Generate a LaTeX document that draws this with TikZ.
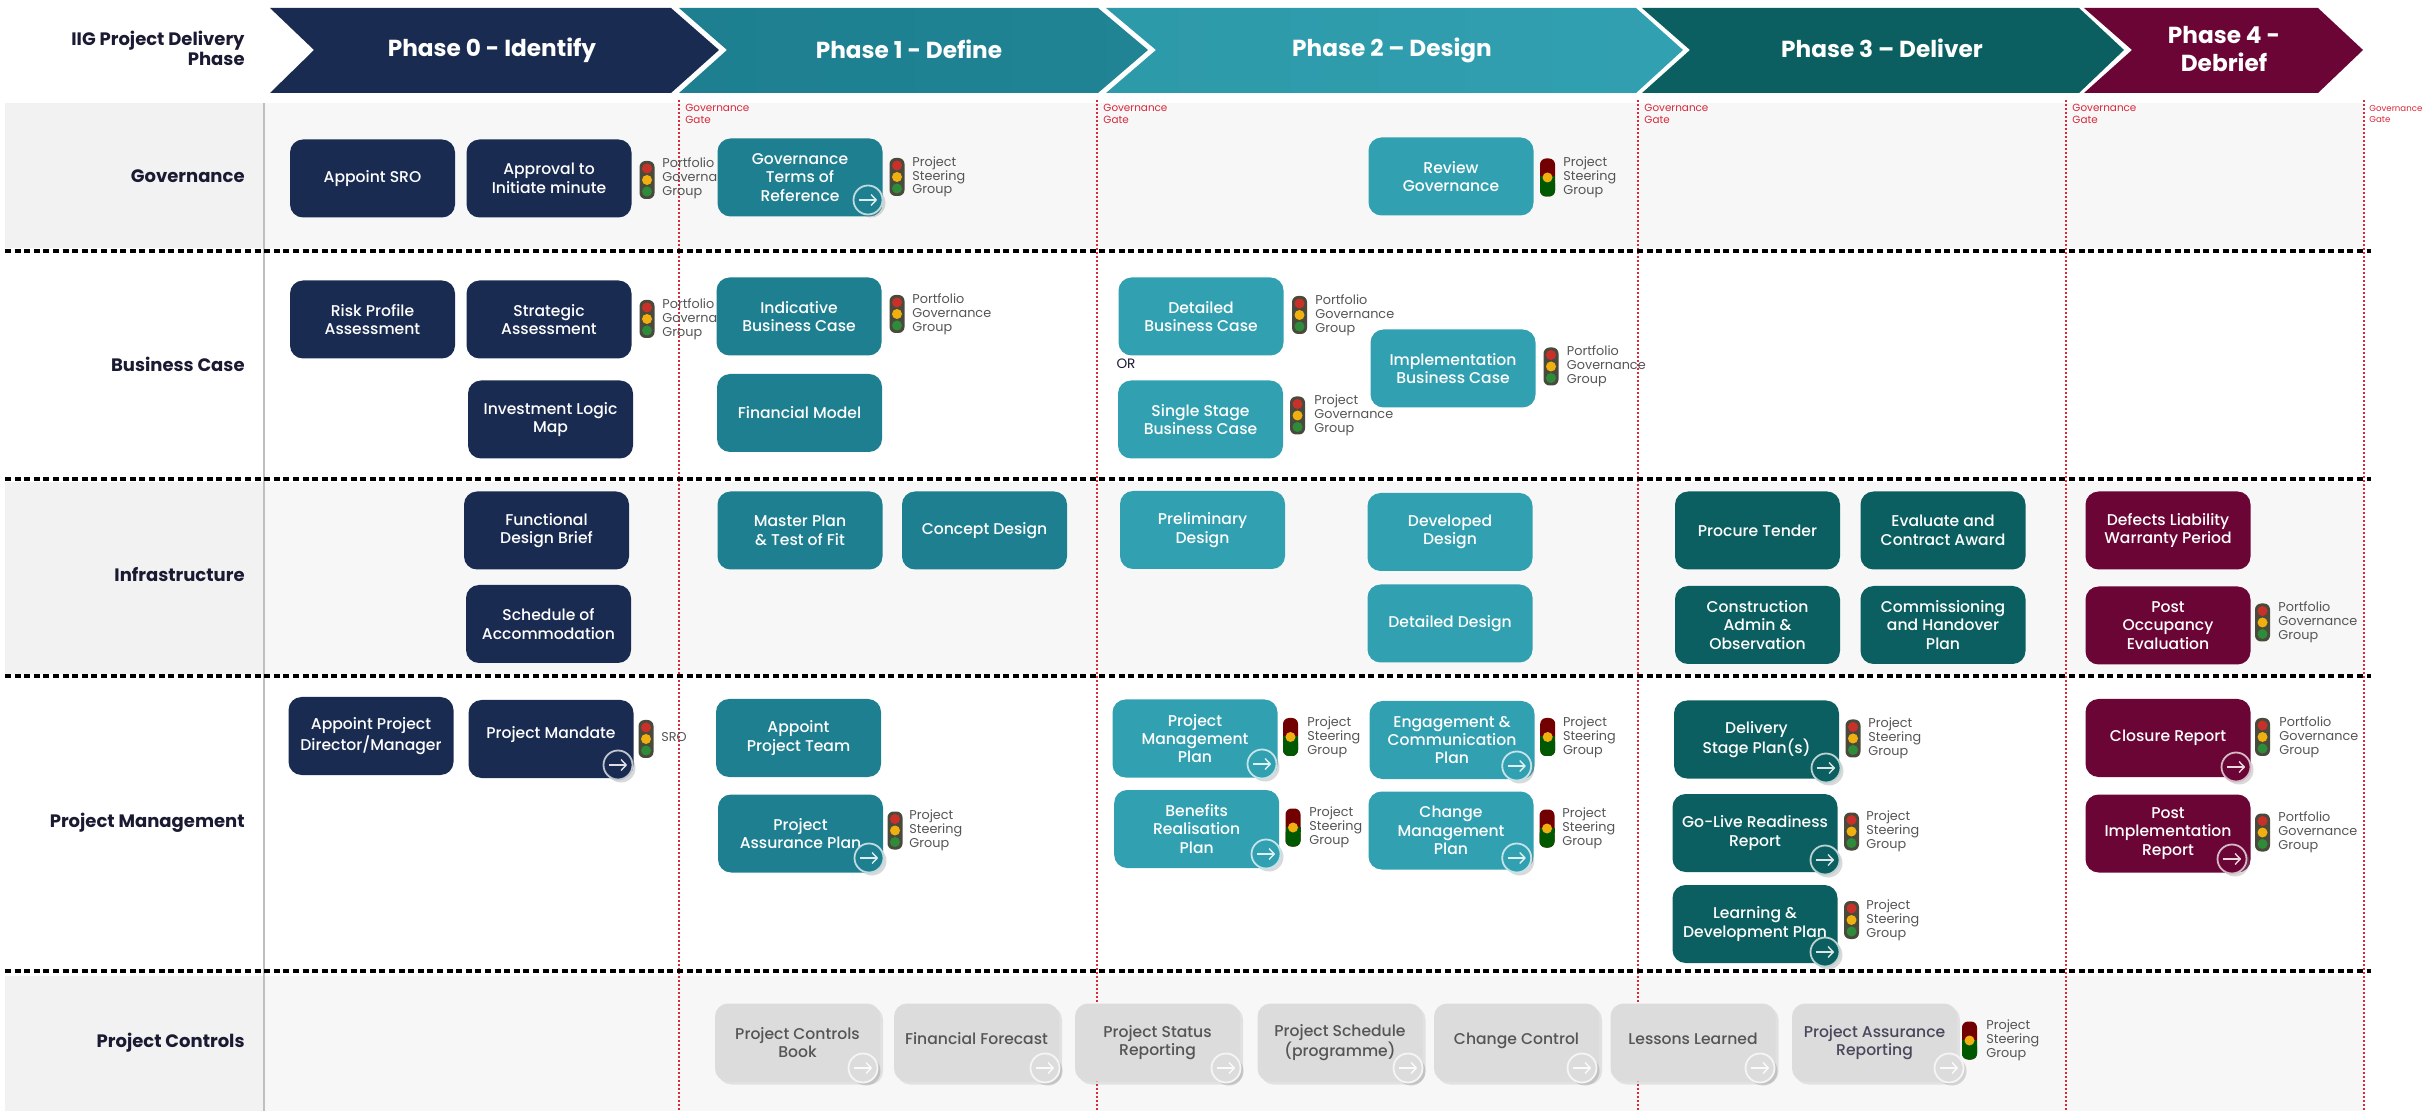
\documentclass[tikz,border=0pt]{standalone}
\usepackage{fontspec}
\setmainfont{Poppins}
\newfontfamily\taskfont{Poppins Medium}
\usetikzlibrary{arrows.meta,shadows}
\definecolor{navyfill}{HTML}{1A2B52}
\definecolor{tealfill}{HTML}{1D7F8F}
\definecolor{aquafill}{HTML}{31A0B0}
\definecolor{pinefill}{HTML}{0C5F60}
\definecolor{wineflll}{HTML}{6B0535}
\definecolor{ashfill}{HTML}{DCDCDC}
\definecolor{bandleft}{HTML}{F2F2F2}
\definecolor{bandmain}{HTML}{F7F7F7}
\definecolor{gatered}{HTML}{D8283C}
\definecolor{ownergrey}{HTML}{555555}
\definecolor{labelink}{HTML}{1A1A33}
\definecolor{lightbody}{HTML}{4A4A3C}
\definecolor{lightred}{HTML}{C8302A}
\definecolor{lightamber}{HTML}{F0B010}
\definecolor{lightgreen}{HTML}{2E8B3A}
\tikzset{
	task/.style={rounded corners=6.5pt,minimum width=82.5pt,minimum height=39pt,inner sep=0pt,
		align=center,text=white,font=\taskfont\fontsize{7.8}{9.2}\selectfont},
	phasezero/.style={task,fill=navyfill},
	phaseone/.style={task,fill=tealfill},
	phasetwo/.style={task,fill=aquafill},
	phasethree/.style={task,fill=pinefill},
	phasefour/.style={task,fill=wineflll},
	phasectrl/.style={task,fill=ashfill,text=ownergrey,drop shadow={opacity=.18,shadow xshift=1.5pt,shadow yshift=-1.5pt}},
	gobtn/.style={circle,minimum size=14.5pt,inner sep=0pt,line width=.9pt,draw=white!72!#1,fill=#1,
		drop shadow={opacity=.3,shadow xshift=1.5pt,shadow yshift=-1.5pt},
		path picture={\draw[white!85!#1,line width=.7pt,-{Straight Barb[length=2.6pt,width=5.5pt]}]
			([xshift=-4.6pt]path picture bounding box.center) -- ([xshift=4.6pt]path picture bounding box.center);}},
	owner/.style={anchor=west,inner sep=0pt,align=left,text=ownergrey,font=\fontsize{6.4}{6.9}\selectfont},
	gatetext/.style={anchor=west,inner sep=0pt,align=left,text=gatered,font=\fontsize{5.2}{5.8}\selectfont},
	phasetext/.style={align=center,inner sep=0pt,text=white,font=\fontsize{11.6}{14}\selectfont\bfseries},
	rowtext/.style={anchor=east,align=right,inner sep=0pt,text=labelink,font=\fontsize{9}{10}\selectfont\bfseries},
	rowline/.style={black,line width=1.9pt,dash pattern=on 3pt off 1.8pt},
	gateline/.style={gatered,line width=1pt,dash pattern=on 1pt off 1pt},
	lights/.pic={
		\fill[lightbody,rounded corners=3pt] (-7.5,-19) rectangle (7.5,19);
		\fill[lightred] (0,11.5) circle (5);
		\fill[lightamber] (0,0) circle (5);
		\fill[lightgreen] (0,-11.5) circle (5);
	},
	dimlights/.pic={
		\fill[red!45!black,rounded corners=3pt] (-7.5,-19) rectangle (7.5,19);
		\fill[green!35!black,rounded corners=3pt] (-7.5,-19) rectangle (7.5,0);
		\fill[green!35!black] (-7.5,-4) rectangle (7.5,1);
		\fill[lightamber] (0,0) circle (5);
	},
}
\begin{document}
\begin{tikzpicture}[x=0.5pt,y=0.5pt]
	\useasboundingbox (0,0) rectangle (2425,-1111);
	\fill[bandmain] (264,-103) rectangle (2364,-248);
	\fill[bandmain] (264,-482) rectangle (2364,-674);
	\fill[bandmain] (264,-976) rectangle (2364,-1111);
	\fill[bandleft] (5,-103) rectangle (264,-248);
	\fill[bandleft] (5,-482) rectangle (264,-674);
	\fill[bandleft] (5,-976) rectangle (264,-1111);
	\draw[black!25,line width=.7pt] (264,-103) -- (264,-1111);

	\fill[navyfill] (270,-8) -- (671,-8) -- (719,-50) -- (671,-93) -- (270,-93) -- (314,-50) -- cycle;
	\shade[left color=tealfill,right color=tealfill!85!aquafill] (679,-8) -- (1098,-8) -- (1148,-50) -- (1098,-93) -- (679,-93) -- (727,-50) -- cycle;
	\shade[left color=aquafill!80!tealfill,right color=aquafill] (1106,-8) -- (1636,-8) -- (1683,-50) -- (1636,-93) -- (1106,-93) -- (1156,-50) -- cycle;
	\fill[pinefill] (1642,-8) -- (2079,-8) -- (2124,-50) -- (2079,-93) -- (1642,-93) -- (1690,-50) -- cycle;
	\fill[wineflll] (2084,-8) -- (2318,-8) -- (2363,-50) -- (2318,-93) -- (2084,-93) -- (2132,-50) -- cycle;
	\node[phasetext] (phasea) at (492,-50) {Phase 0 - Identify};
	\node[phasetext] (phaseb) at (909,-49) {Phase 1 - Define};
	\node[phasetext] (phasec) at (1392,-50) {Phase 2 – Design};
	\node[phasetext] (phased) at (1882,-48) {Phase 3 – Deliver};
	\node[phasetext] (phasee) at (2224,-49) {Phase 4 -\\Debrief};

	\node[rowtext] (rowphase) at (245,-48) {IIG Project Delivery\\Phase};
	\node[rowtext] (rowgov) at (245,-176) {Governance};
	\node[rowtext] (rowbus) at (245,-364) {Business Case};
	\node[rowtext] (rowinf) at (245,-575) {Infrastructure};
	\node[rowtext] (rowpm) at (245,-823) {Project Management};
	\node[rowtext] (rowctl) at (245,-1043) {Project Controls};

	\draw[gateline] (679,-100) -- (679,-1111);
	\draw[gateline] (1097,-100) -- (1097,-1111);
	\draw[gateline] (1638,-100) -- (1638,-1111);
	\draw[gateline] (2066,-100) -- (2066,-1111);
	\draw[gateline] (2364,-100) -- (2364,-1111);
	\node[gatetext] (gatea) at (685,-114) {Governance\\Gate};
	\node[gatetext] (gateb) at (1103,-114) {Governance\\Gate};
	\node[gatetext] (gatec) at (1644,-114) {Governance\\Gate};
	\node[gatetext] (gated) at (2072,-114) {Governance\\Gate};
	\node[gatetext,font=\fontsize{4.3}{5.8}\selectfont] (gatee) at (2369,-114) {Governance\\Gate};

	\draw[rowline] (5,-251) -- (2371,-251);
	\draw[rowline] (5,-479) -- (2371,-479);
	\draw[rowline] (5,-676) -- (2371,-676);
	\draw[rowline] (5,-971) -- (2371,-971);

	\node[phasezero] (appointsro) at (372.5,-178.5) {Appoint SRO};
	\node[phasezero] (approval) at (549,-178.5) {Approval to\\Initiate minute};
	\pic at (647,-180) {lights};
	\node[owner] (ownera) at (662,-178) {Portfolio\\Governance\\Group};
	\node[phasezero] (riskprofile) at (372.5,-319.5) {Risk Profile\\Assessment};
	\node[phasezero] (strategic) at (549,-319.5) {Strategic\\Assessment};
	\pic at (647,-319) {lights};
	\node[owner] (ownerb) at (662,-319) {Portfolio\\Governance\\Group};
	\node[phasezero] (investment) at (550.5,-419.5) {Investment Logic\\Map};
	\node[phasezero] (funcbrief) at (546.5,-530.5) {Functional\\Design Brief};
	\node[phasezero] (schedaccom) at (548.5,-624) {Schedule of\\Accommodation};
	\node[phasezero] (appointpm) at (371,-736) {Appoint Project\\Director/Manager};
	\node[phasezero] (mandate) at (551,-739) {Project Mandate\\[-3pt]\mbox{}};
	\node[gobtn=navyfill] (mandatego) at (618,-765) {};
	\pic at (646,-739) {lights};
	\node[owner] (ownerc) at (661,-737) {SRO};

	\node[phaseone] (govtor) at (800,-177.5) {Governance\\Terms of\\Reference};
	\node[gobtn=tealfill] (govtorgo) at (868,-200) {};
	\pic at (897,-177) {lights};
	\node[owner] (ownerd) at (912,-177) {Project\\Steering\\Group};
	\node[phaseone] (indicative) at (799,-316.5) {Indicative\\Business Case};
	\pic at (897,-314) {lights};
	\node[owner] (ownere) at (912,-314) {Portfolio\\Governance\\Group};
	\node[phaseone] (finmodel) at (799.5,-413) {Financial Model};
	\node[phaseone] (masterplan) at (800,-530.5) {Master Plan\\\& Test of Fit};
	\node[phaseone] (concept) at (984.5,-530.5) {Concept Design};
	\node[phaseone] (appointteam) at (798.5,-738) {Appoint\\Project Team};
	\node[phaseone] (assurance) at (800.5,-833.5) {Project\\Assurance Plan};
	\node[gobtn=tealfill] (assurancego) at (869,-858) {};
	\pic at (895,-830.5) {lights};
	\node[owner] (ownerf) at (909,-830.5) {Project\\Steering\\Group};

	\node[phasetwo] (review) at (1451,-176.5) {Review\\Governance};
	\pic at (1547.5,-177.5) {dimlights};
	\node[owner] (ownerg) at (1563,-177.5) {Project\\Steering\\Group};
	\node[phasetwo] (detailedbc) at (1201,-316.5) {Detailed\\Business Case};
	\pic at (1299.5,-315) {lights};
	\node[owner] (ownerh) at (1315,-315) {Portfolio\\Governance\\Group};
	\node[text=labelink,inner sep=0pt,font=\fontsize{6.8}{8}\selectfont] (orword) at (1126,-364) {OR};
	\node[phasetwo] (singlebc) at (1200.5,-419.5) {Single Stage\\Business Case};
	\pic at (1297.5,-415.5) {lights};
	\node[owner] (owneri) at (1314,-415.5) {Project\\Governance\\Group};
	\node[phasetwo] (implbc) at (1453,-368.5) {Implementation\\Business Case};
	\pic at (1551,-366.5) {lights};
	\node[owner] (ownerj) at (1566.5,-366.5) {Portfolio\\Governance\\Group};
	\node[phasetwo] (prelim) at (1202.5,-530) {Preliminary\\Design};
	\node[phasetwo] (developed) at (1450,-532) {Developed\\Design};
	\node[phasetwo] (detaileddes) at (1450,-623.5) {Detailed Design};
	\node[phasetwo] (pmplan) at (1195,-738.5) {Project\\Management\\Plan};
	\node[gobtn=aquafill] (pmplango) at (1262,-764) {};
	\pic at (1290.5,-737) {dimlights};
	\node[owner] (ownerk) at (1307,-737) {Project\\Steering\\Group};
	\node[phasetwo] (benefits) at (1196.7,-829) {Benefits\\Realisation\\Plan};
	\node[gobtn=aquafill] (benefitsgo) at (1266,-854) {};
	\pic at (1293,-827.5) {dimlights};
	\node[owner] (ownerl) at (1309,-827.5) {Project\\Steering\\Group};
	\node[phasetwo] (engage) at (1452,-740) {Engagement \&\\Communication\\Plan};
	\node[gobtn=aquafill] (engagego) at (1516.7,-766) {};
	\pic at (1547.7,-737) {dimlights};
	\node[owner] (ownerm) at (1562.6,-737) {Project\\Steering\\Group};
	\node[phasetwo] (changemgt) at (1451,-830.5) {Change\\Management\\Plan};
	\node[gobtn=aquafill] (changemgtgo) at (1516.7,-858) {};
	\pic at (1547,-828.5) {dimlights};
	\node[owner] (ownern) at (1562,-828.5) {Project\\Steering\\Group};

	\node[phasethree] (procure) at (1757.5,-530.5) {Procure Tender};
	\node[phasethree] (evaluate) at (1943,-530.5) {Evaluate and\\Contract Award};
	\node[phasethree] (construction) at (1757.5,-625) {Construction\\Admin \&\\Observation};
	\node[phasethree] (commission) at (1943,-625) {Commissioning\\and Handover\\Plan};
	\node[phasethree] (delivery) at (1756.5,-739.5) {Delivery\\Stage Plan(s)};
	\node[gobtn=pinefill] (deliverygo) at (1826,-768) {};
	\pic at (1853,-738.5) {lights};
	\node[owner] (ownero) at (1868,-738.5) {Project\\Steering\\Group};
	\node[phasethree] (golive) at (1755,-833) {Go-Live Readiness\\Report};
	\node[gobtn=pinefill] (golivego) at (1825,-860) {};
	\pic at (1851.5,-831.5) {lights};
	\node[owner] (ownerp) at (1866,-831.5) {Project\\Steering\\Group};
	\node[phasethree] (learning) at (1755,-924) {Learning \&\\Development Plan};
	\node[gobtn=pinefill] (learninggo) at (1825,-952) {};
	\pic at (1851.5,-920) {lights};
	\node[owner] (ownerq) at (1866,-920) {Project\\Steering\\Group};

	\node[phasefour] (defects) at (2168,-530.5) {Defects Liability\\Warranty Period};
	\node[phasefour] (postocc) at (2168,-625.5) {Post\\Occupancy\\Evaluation};
	\pic at (2262.5,-622.5) {lights};
	\node[owner] (ownerr) at (2278,-622.5) {Portfolio\\Governance\\Group};
	\node[phasefour] (closure) at (2168,-738) {Closure Report};
	\node[gobtn=wineflll] (closurego) at (2236,-767) {};
	\pic at (2262.5,-737) {lights};
	\node[owner] (owners) at (2279,-737) {Portfolio\\Governance\\Group};
	\node[phasefour] (postimpl) at (2168,-833.5) {Post\\Implementation\\Report};
	\node[gobtn=wineflll] (postimplgo) at (2232,-859) {};
	\pic at (2262.5,-832.5) {lights};
	\node[owner] (ownert) at (2278,-832.5) {Portfolio\\Governance\\Group};

	\node[phasectrl] (ctlbook) at (797.5,-1042.5) {Project Controls\\Book};
	\node[gobtn=ashfill] (ctlbookgo) at (863,-1068) {};
	\node[phasectrl] (ctlforecast) at (976.5,-1042.5) {Financial Forecast\\[-5pt]\mbox{}};
	\node[gobtn=ashfill] (ctlforecastgo) at (1045,-1068) {};
	\node[phasectrl] (ctlstatus) at (1157.5,-1042.5) {Project Status\\Reporting};
	\node[gobtn=ashfill] (ctlstatusgo) at (1226,-1068) {};
	\node[phasectrl] (ctlschedule) at (1340,-1042.5) {Project Schedule\\(programme)};
	\node[gobtn=ashfill] (ctlschedulego) at (1408,-1068) {};
	\node[phasectrl] (ctlchange) at (1516.5,-1042.5) {Change Control\\[-5pt]\mbox{}};
	\node[gobtn=ashfill] (ctlchangego) at (1582,-1068) {};
	\node[phasectrl] (ctllessons) at (1693,-1042.5) {Lessons Learned\\[-5pt]\mbox{}};
	\node[gobtn=ashfill] (ctllessonsgo) at (1760,-1068) {};
	\node[phasectrl,text=labelink!80] (ctlassure) at (1874.5,-1042.5) {Project Assurance\\Reporting};
	\node[gobtn=ashfill] (ctlassurego) at (1949,-1068) {};
	\pic at (1969.5,-1040.5) {dimlights};
	\node[owner] (owneru) at (1986,-1040.5) {Project\\Steering\\Group};
\end{tikzpicture}
\end{document}
